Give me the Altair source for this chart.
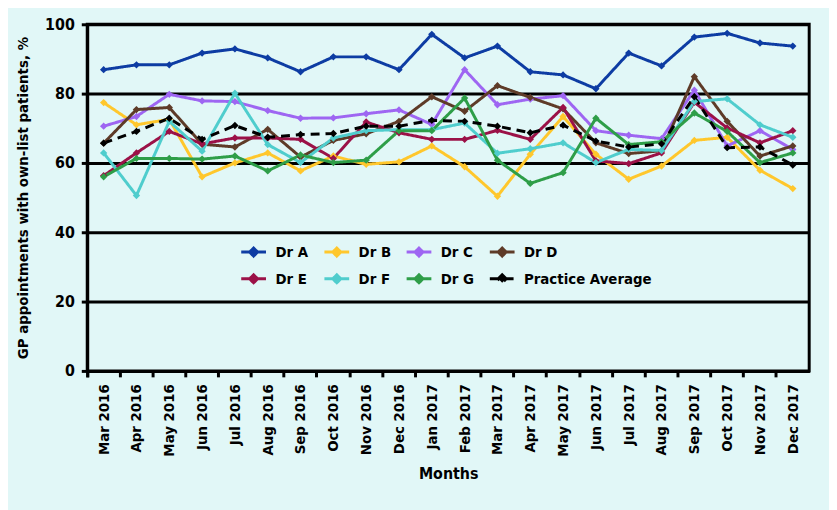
import altair as alt
import pandas as pd

months = ["Mar 2016", "Apr 2016", "May 2016", "Jun 2016", "Jul 2016", "Aug 2016",
          "Sep 2016", "Oct 2016", "Nov 2016", "Dec 2016", "Jan 2017", "Feb 2017",
          "Mar 2017", "Apr 2017", "May 2017", "Jun 2017", "Jul 2017", "Aug 2017",
          "Sep 2017", "Oct 2017", "Nov 2017", "Dec 2017"]

series_names = ["Dr A", "Dr B", "Dr C", "Dr D", "Dr E", "Dr F", "Dr G", "Practice Average"]
series_colors = ["#0d3ca3", "#ffc72c", "#9e66f2", "#5e3b28", "#9b1147", "#4fcdcd", "#2e9e48", "#000000"]

dr_a = [86.9, 88.3, 88.3, 91.7, 92.9, 90.3, 86.3, 90.6, 90.6, 86.9, 97.1, 90.3,
        93.7, 86.3, 85.4, 81.4, 91.7, 88.0, 96.3, 97.4, 94.6, 93.7]
dr_b = [77.4, 71.0, 72.6, 56.0, 60.0, 62.9, 57.7, 62.0, 59.6, 60.3, 64.9, 58.9,
        50.4, 62.5, 73.4, 62.5, 55.3, 59.1, 66.5, 67.4, 57.9, 52.6]
dr_c = [70.6, 73.4, 79.8, 77.9, 77.7, 75.1, 72.9, 73.0, 74.2, 75.3, 71.1, 86.9,
        76.8, 78.4, 79.4, 69.3, 68.0, 67.0, 81.0, 64.9, 69.3, 63.9]
dr_d = [65.7, 75.4, 76.0, 65.4, 64.6, 69.7, 61.7, 66.5, 68.4, 72.0, 79.1, 74.9,
        82.3, 78.9, 75.6, 65.8, 62.7, 63.5, 84.9, 72.0, 62.0, 64.9]
dr_e = [56.3, 62.9, 69.1, 65.5, 67.2, 67.2, 66.8, 61.3, 71.8, 68.7, 66.8, 66.8,
        69.4, 66.8, 76.0, 60.6, 59.8, 62.9, 77.5, 70.1, 65.8, 69.3]
dr_f = [62.9, 50.6, 72.0, 63.4, 80.1, 65.3, 60.1, 67.2, 69.3, 69.6, 69.6, 71.5,
        62.8, 64.1, 65.8, 60.1, 63.9, 63.6, 77.7, 78.5, 71.0, 67.4]
dr_g = [56.0, 61.3, 61.3, 61.1, 62.0, 57.7, 62.3, 60.1, 60.8, 69.3, 69.3, 78.7,
        60.8, 54.1, 57.2, 72.9, 65.3, 66.1, 74.4, 69.1, 60.1, 62.9]
practice_avg = [65.7, 69.1, 72.9, 66.8, 70.8, 67.4, 68.2, 68.5, 70.6, 70.6, 72.3, 72.0,
                70.6, 68.7, 70.9, 66.3, 64.6, 65.5, 79.1, 64.4, 64.6, 59.4]

all_series = [dr_a, dr_b, dr_c, dr_d, dr_e, dr_f, dr_g, practice_avg]

rows = []
for name, vals in zip(series_names, all_series):
    for m, v in zip(months, vals):
        rows.append({"month": m, "series": name, "value": v})
df = pd.DataFrame(rows)

FONT = "DejaVu Sans Condensed"
BG = "#e1f7f7"

x_enc = alt.X(
    "month:N", sort=months,
    scale=alt.Scale(type="band", paddingInner=0, paddingOuter=0),
    axis=alt.Axis(title="Months", bandPosition=0, tickExtra=True, labelAngle=-90,
                  labelFontSize=15, labelFontWeight="bold", labelFont=FONT,
                  labelColor="black", labelPadding=7,
                  titleFontSize=16, titleFontWeight="bold", titleFont=FONT,
                  titleColor="black", titlePadding=10,
                  domainColor="black", domainWidth=3, tickColor="black",
                  tickWidth=3, tickSize=6, grid=False),
)
y_enc = alt.Y(
    "value:Q",
    scale=alt.Scale(domain=[0, 100], nice=False),
    axis=alt.Axis(title="GP appointments with own-list patients, %",
                  values=[0, 20, 40, 60, 80, 100],
                  labelFontSize=16, labelFontWeight="bold", labelFont=FONT,
                  labelColor="black", labelPadding=7,
                  titleFontSize=15, titleFontWeight="bold", titleFont=FONT,
                  titleColor="black", titlePadding=14,
                  domainColor="black", domainWidth=3, tickColor="black",
                  tickWidth=3, tickSize=6, grid=True, gridColor="black",
                  gridWidth=3, gridOpacity=1),
)

color_scale = alt.Scale(domain=series_names, range=series_colors)
dash_scale = alt.Scale(domain=series_names, range=[[1, 0]] * 7 + [[9, 6]])

legend = alt.Legend(
    title=None, orient="none", legendX=154, legendY=216, columns=4,
    symbolType="M-1,0H1M0,-0.32L0.32,0L0,0.32L-0.32,0Z",
    symbolSize=625, symbolStrokeWidth=3, labelFontSize=15,
    labelFontWeight="bold", labelFont=FONT, labelColor="black",
    labelOffset=8, columnPadding=9, rowPadding=3, padding=0,
    direction="horizontal",
)

lines = alt.Chart(df).mark_line(strokeWidth=3).encode(
    x=x_enc, y=y_enc,
    color=alt.Color("series:N", scale=color_scale, sort=series_names, legend=legend),
    strokeDash=alt.StrokeDash("series:N", scale=dash_scale, legend=None),
    order=alt.Order("month_idx:Q"),
).transform_calculate(
    month_idx="indexof(" + str(months) + ", datum.month)"
)

points = alt.Chart(df).mark_point(shape="diamond", filled=True, size=55, opacity=1).encode(
    x=alt.X("month:N", sort=months),
    y=alt.Y("value:Q"),
    color=alt.Color("series:N", scale=color_scale, sort=series_names, legend=None),
)

chart = alt.layer(lines, points).properties(
    width=729, height=350,
    background=BG,
    autosize=alt.AutoSizeParams(type="none"),
    padding={"left": 80, "top": 14, "right": 20, "bottom": 138},
).configure_view(
    stroke="black", strokeWidth=3, fill=BG
)

chart.save("out.html", embed_options={"renderer": "svg", "actions": False})
